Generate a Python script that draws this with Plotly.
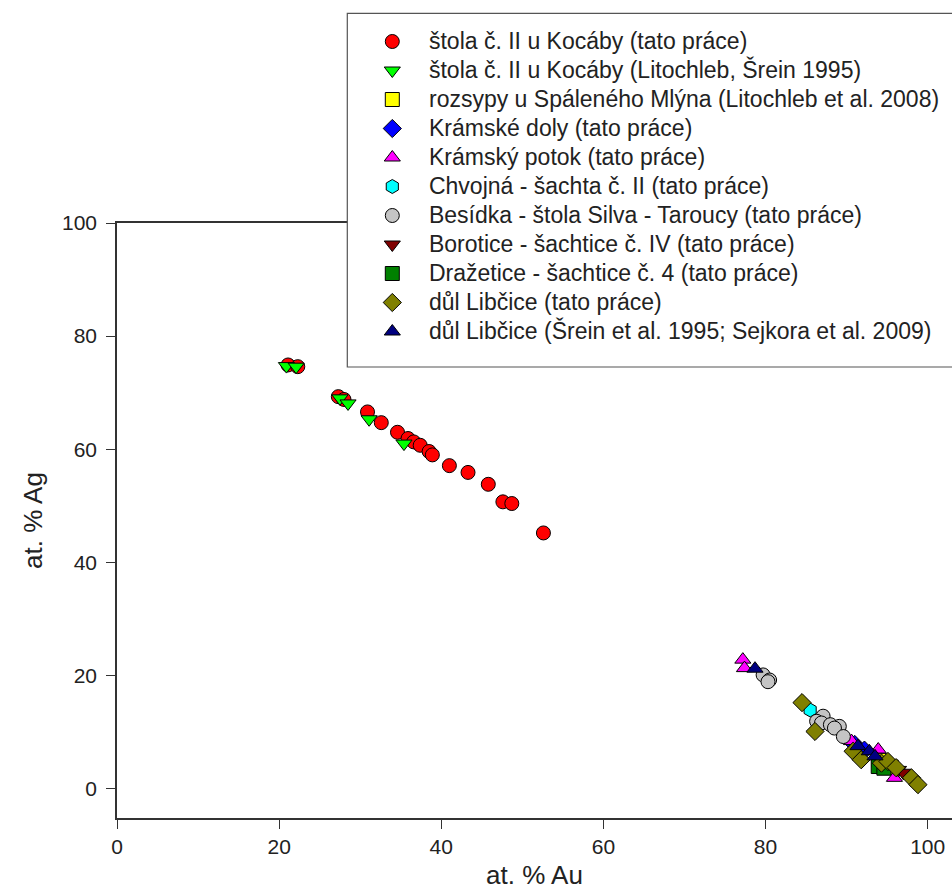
import plotly.graph_objects as go

# ---- data (at. % Au, at. % Ag) ----
kocaby_au = [21.1, 22.3, 27.3, 28.0, 30.9, 32.6, 34.6, 35.9, 36.6, 37.4, 38.5, 38.9, 41.0, 43.3, 45.8, 47.6, 48.7, 52.6]
kocaby_ag = [74.9, 74.6, 69.3, 68.8, 66.6, 64.7, 63.0, 61.9, 61.3, 60.7, 59.6, 59.0, 57.1, 55.9, 53.8, 50.7, 50.4, 45.2]

kocaby_lit_au = [20.9, 22.1, 27.5, 28.5, 31.1, 35.4]
kocaby_lit_ag = [74.7, 74.6, 69.0, 68.1, 65.3, 61.0]

spaleny_au = [94.0, 95.5]
spaleny_ag = [5.0, 3.8]

kramske_au = [91.0, 92.2]
kramske_ag = [7.8, 6.8]

kramsky_au = [77.2, 77.4, 90.6, 93.9, 95.9]
kramsky_ag = [22.8, 21.3, 8.4, 6.9, 1.9]

chvojna_au = [85.5]
chvojna_ag = [13.9]

besidka_au = [79.7, 80.5, 80.3, 87.1, 86.3, 86.9, 88.0, 89.1, 88.5, 89.6]
besidka_ag = [20.1, 19.2, 18.9, 12.8, 11.9, 11.6, 11.3, 11.0, 10.7, 9.2]

borotice_au = [96.4, 97.0]
borotice_ag = [3.3, 2.8]

drazetice_au = [93.9, 94.6]
drazetice_ag = [3.9, 3.6]

libcice_au = [84.5, 86.1, 90.8, 91.8, 94.3, 95.1, 96.1, 98.0, 98.8]
libcice_ag = [15.2, 10.1, 6.6, 5.1, 4.5, 4.8, 3.7, 1.9, 0.7]

libcice_lit_au = [78.7, 91.4, 92.8, 93.5]
libcice_lit_ag = [21.2, 7.5, 6.6, 5.7]

x_ticks = [0, 20, 40, 60, 80, 100]
y_ticks = [0, 20, 40, 60, 80, 100]

series = [
    ("štola č. II u Kocáby (tato práce)", kocaby_au, kocaby_ag, "circle", "#ff0000"),
    ("štola č. II u Kocáby (Litochleb, Šrein 1995)", kocaby_lit_au, kocaby_lit_ag, "triangle-down", "#00ff00"),
    ("rozsypy u Spáleného Mlýna (Litochleb et al. 2008)", spaleny_au, spaleny_ag, "square", "#ffff00"),
    ("Krámské doly (tato práce)", kramske_au, kramske_ag, "diamond", "#0000ff"),
    ("Krámský potok (tato práce)", kramsky_au, kramsky_ag, "triangle-up", "#ff00ff"),
    ("Chvojná - šachta č. II (tato práce)", chvojna_au, chvojna_ag, "hexagon", "#00ffff"),
    ("Besídka - štola Silva - Taroucy (tato práce)", besidka_au, besidka_ag, "circle", "#c4c4c4"),
    ("Borotice - šachtice č. IV (tato práce)", borotice_au, borotice_ag, "triangle-down", "#800000"),
    ("Dražetice - šachtice č. 4 (tato práce)", drazetice_au, drazetice_ag, "square", "#008000"),
    ("důl Libčice (tato práce)", libcice_au, libcice_ag, "diamond", "#808000"),
    ("důl Libčice (Šrein et al. 1995; Sejkora et al. 2009)", libcice_lit_au, libcice_lit_ag, "triangle-up", "#000080"),
]

FONT = "Liberation Sans, Arial, sans-serif"
AX = "#333333"

fig = go.Figure()
for name, xs, ys, sym, col in series:
    fig.add_trace(go.Scatter(
        x=xs, y=ys, mode="markers",
        name="\u00a0\u00a0\u00a0<span style='font-size:23px'>" + name + "</span>",
        marker=dict(symbol=sym, size=14, color=col,
                    line=dict(color="black", width=1)),
    ))

W, H = 952, 892
L, R, T, B = 117, 0, 223, 74
ph = H - T - B

def py(px):
    return (H - B - px) / ph

def pxx(px):
    return (px - L) / (W - L - R)

fig.add_shape(type="rect", xref="paper", yref="paper",
              x0=pxx(347.3), x1=1.2, y0=py(367), y1=py(13.3),
              line=dict(color="#555555", width=1.2), fillcolor="white", layer="above")

fig.update_layout(
    width=W, height=H,
    margin=dict(l=L, r=R, t=T, b=B, autoexpand=False),
    plot_bgcolor="white", paper_bgcolor="white",
    font=dict(family=FONT, size=21, color="#222222"),
    showlegend=True,
    legend=dict(
        x=pxx(347.3), xanchor="left",
        y=py(22), yanchor="top",
        bgcolor="rgba(0,0,0,0)", borderwidth=0,
        font=dict(family=FONT, size=20, color="#222222"),
        indentation=25,
        itemclick=False,
    ),
    xaxis=dict(
        range=[0, 103], tickvals=x_ticks, ticktext=[str(v) for v in x_ticks],
        ticks="outside", ticklen=9, tickwidth=1.3, tickcolor=AX,
        showline=True, linecolor=AX, linewidth=1.6, mirror=True,
        showgrid=False, zeroline=False,
        title=dict(text="at. % Au", font=dict(size=26), standoff=9),
    ),
    yaxis=dict(
        range=[-5.2, 100], tickvals=y_ticks, ticktext=[str(v) for v in y_ticks],
        ticks="outside", ticklen=9, tickwidth=1.3, tickcolor=AX,
        showline=True, linecolor=AX, linewidth=1.6, mirror=False,
        showgrid=False, zeroline=False, ticklabelstandoff=5,
        title=dict(text="at. % Ag", font=dict(size=26), standoff=12),
    ),
)

fig.write_html("out.html", config={"displayModeBar": False},
               post_script="document.body.style.margin='0';document.body.style.overflow='hidden';")
